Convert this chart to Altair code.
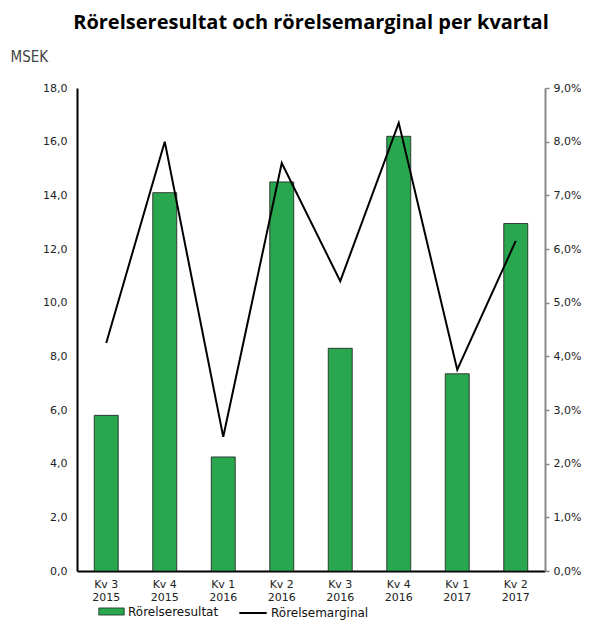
import altair as alt
import pandas as pd

quarters = ["Kv 3|2015", "Kv 4|2015", "Kv 1|2016", "Kv 2|2016",
            "Kv 3|2016", "Kv 4|2016", "Kv 1|2017", "Kv 2|2017"]
resultat = [5.8, 14.1, 4.25, 14.5, 8.3, 16.2, 7.35, 12.95]
marginal = [4.25, 8.0, 2.5, 7.6, 5.4, 8.35, 3.75, 6.15]

df = pd.DataFrame({"q": quarters, "res": resultat, "marg": marginal})

LABEL_FONT = "DejaVu Sans"

x = alt.X("q:N", sort=quarters, title=None,
          scale=alt.Scale(paddingInner=0.59, paddingOuter=0.295),
          axis=alt.Axis(labelExpr="split(datum.label, '|')", labelAngle=0,
                        ticks=False, domainColor="black", domainWidth=2,
                        labelFont=LABEL_FONT, labelFontSize=11, labelColor="#222",
                        labelPadding=7, labelLineHeight=13))

base = alt.Chart(df)

bars = base.transform_calculate(s="'Rörelseresultat'").mark_bar(
    stroke="#1b1b1b", strokeWidth=0.8
).encode(
    x=x,
    y=alt.Y("res:Q", scale=alt.Scale(domain=[0, 18], nice=False),
            axis=alt.Axis(values=list(range(0, 19, 2)), grid=False, ticks=False,
                          domainColor="black", domainWidth=2,
                          labelExpr="replace(format(datum.value, '.1f'), '.', ',')",
                          labelFont=LABEL_FONT, labelFontSize=11, labelColor="#222",
                          labelPadding=10,
                          title="MSEK", titleAngle=0, titleX=-67, titleY=-27,
                          titleAlign="left", titleBaseline="alphabetic",
                          titleFont="'Liberation Sans Narrow', 'DejaVu Sans Condensed', sans-serif",
                          titleFontSize=15, titleFontWeight="normal", titleColor="#444")),
    color=alt.Color("s:N", scale=alt.Scale(domain=["Rörelseresultat"], range=["#29A74F"]),
                    legend=alt.Legend(title=None, orient="none", legendX=21, legendY=510,
                                      symbolType="M-1,-0.28H1V0.28H-1Z", symbolSize=650,
                                      symbolStrokeColor="black", symbolStrokeWidth=0.6,
                                      labelFont=LABEL_FONT, labelFontSize=12,
                                      labelColor="#111", labelOffset=3)),
)

line = base.transform_calculate(s2="'Rörelsemarginal'").mark_line(
    strokeWidth=2
).encode(
    x=x,
    y=alt.Y("marg:Q", scale=alt.Scale(domain=[0, 9], nice=False),
            axis=alt.Axis(orient="right", values=list(range(0, 10)), grid=False,
                          ticks=True, tickSize=4, tickColor="#888", tickWidth=1.5,
                          domainColor="#888", domainWidth=2,
                          labelExpr="replace(format(datum.value, '.1f'), '.', ',') + '%'",
                          labelFont=LABEL_FONT, labelFontSize=11, labelColor="#222",
                          labelPadding=4, title=None)),
    stroke=alt.Stroke("s2:N", scale=alt.Scale(domain=["Rörelsemarginal"], range=["black"]),
                      legend=alt.Legend(title=None, orient="none", legendX=161, legendY=510,
                                        symbolType="stroke", symbolSize=750,
                                        symbolStrokeWidth=2,
                                        labelFont=LABEL_FONT, labelFontSize=12,
                                        labelColor="#111", labelOffset=3)),
)

chart = alt.layer(bars, line).resolve_scale(y="independent").properties(
    width=468, height=483,
    title=alt.TitleParams("Rörelseresultat och rörelsemarginal per kvartal",
                          font="Open Sans", fontSize=20, fontWeight="bold",
                          color="black", anchor="middle", frame="group",
                          baseline="alphabetic", offset=17, dy=17),
    autosize=alt.AutoSizeParams(type="none"),
    padding={"left": 69, "top": 80, "right": 37, "bottom": 50},
).configure_view(stroke=None)

chart.save("out.html", embed_options={"renderer": "svg", "actions": False})
